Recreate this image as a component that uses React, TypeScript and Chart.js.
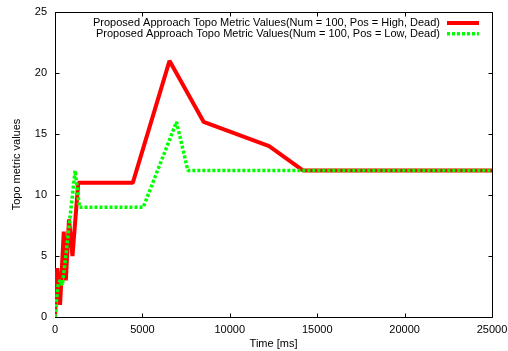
import React, { useEffect, useRef } from 'react';
import { Chart, registerables } from 'chart.js';

Chart.register(...registerables);

// ---- data ----
const seriesLabels = [
  'Proposed Approach Topo Metric Values(Num = 100, Pos = High, Dead)',
  'Proposed Approach Topo Metric Values(Num = 100, Pos = Low, Dead)',
];
const highTimes = [0, 130, 290, 500, 620, 800, 1000, 1330, 4450, 6550, 8500, 12250, 14200, 25000];
const highValues = [0, 4, 1, 7, 3, 8, 5, 11, 11, 21, 16, 14, 12, 12];
const lowTimes = [0, 190, 300, 420, 620, 1150, 1400, 5050, 6950, 7600, 25000];
const lowValues = [0, 2.8, 3, 2.6, 5, 12, 9, 9, 16, 12, 12];
const xMin = 0;
const xMax = 25000;
const xStep = 5000;
const yMin = 0;
const yMax = 25;
const yStep = 5;
const xTitle = 'Time [ms]';
const yTitle = 'Topo metric values';

const FONT = "'Liberation Sans', Arial, Helvetica, sans-serif";

const toPoints = (xs: number[], ys: number[]) => xs.map((x, i) => ({ x, y: ys[i] }));

const framePlugin = {
  id: 'gnuFrame',
  beforeDatasetsDraw(chart: any) {
    const { ctx, chartArea, scales } = chart;
    const L = Math.floor(chartArea.left) + 0.5;
    const R = Math.floor(chartArea.right) + 0.5;
    const T = Math.floor(chartArea.top) + 0.5;
    const B = Math.floor(chartArea.bottom) + 0.5;
    const tl = 4;
    ctx.save();
    ctx.strokeStyle = '#000';
    ctx.lineWidth = 1;
    ctx.beginPath();
    ctx.rect(L, T, R - L, B - T);
    scales.x.ticks.forEach((t: any) => {
      const px = Math.round(scales.x.getPixelForValue(t.value)) + 0.5;
      ctx.moveTo(px, B);
      ctx.lineTo(px, B - tl);
      ctx.moveTo(px, T);
      ctx.lineTo(px, T + tl);
    });
    scales.y.ticks.forEach((t: any) => {
      const py = Math.round(scales.y.getPixelForValue(t.value)) + 0.5;
      ctx.moveTo(L, py);
      ctx.lineTo(L + tl, py);
      ctx.moveTo(R, py);
      ctx.lineTo(R - tl, py);
    });
    ctx.stroke();
    ctx.restore();
  },
};

const legendPlugin = {
  id: 'gnuLegend',
  afterDatasetsDraw(chart: any) {
    const { ctx } = chart;
    const textRight = 440;
    const sampleL = 447;
    const sampleR = 479;
    const y0 = 23;
    const dy = 10.7;
    ctx.save();
    ctx.font = `11px ${FONT}`;
    ctx.textAlign = 'right';
    ctx.textBaseline = 'middle';
    chart.data.datasets.forEach((ds: any, i: number) => {
      const y = y0 + i * dy;
      ctx.fillStyle = '#000';
      ctx.fillText(ds.label, textRight, y);
      ctx.beginPath();
      ctx.strokeStyle = ds.borderColor;
      ctx.lineWidth = ds.borderWidth;
      ctx.setLineDash(ds.borderDash || []);
      ctx.moveTo(sampleL, y);
      ctx.lineTo(sampleR, y);
      ctx.stroke();
      ctx.setLineDash([]);
    });
    ctx.restore();
  },
};

export default function App() {
  const ref = useRef<HTMLCanvasElement | null>(null);

  useEffect(() => {
    document.body.style.margin = '0';
    const canvas = ref.current;
    if (!canvas) return;
    const chart = new Chart(canvas, {
      type: 'line',
      data: {
        datasets: [
          {
            label: seriesLabels[0],
            data: toPoints(highTimes, highValues),
            borderColor: '#ff0000',
            backgroundColor: '#ff0000',
            borderWidth: 4,
            borderJoinStyle: 'bevel',
            pointRadius: 0,
            tension: 0,
            fill: false,
            order: 1,
          },
          {
            label: seriesLabels[1],
            data: toPoints(lowTimes, lowValues),
            borderColor: '#00ff00',
            backgroundColor: '#00ff00',
            borderWidth: 3.5,
            borderDash: [3, 2],
            borderCapStyle: 'butt',
            borderJoinStyle: 'bevel',
            pointRadius: 0,
            tension: 0,
            fill: false,
            order: 0,
          },
        ],
      },
      options: {
        animation: false,
        responsive: false,
        devicePixelRatio: 1,
        layout: { padding: { top: 12, right: 16, left: 0, bottom: 0 } },
        font: { family: FONT, size: 11 },
        plugins: {
          legend: { display: false },
          tooltip: { enabled: false },
        },
        scales: {
          x: {
            type: 'linear',
            min: xMin,
            max: xMax,
            ticks: {
              stepSize: xStep,
              padding: 6,
              color: '#000',
              maxRotation: 0,
              autoSkip: false,
              font: { family: FONT, size: 11 },
              callback: (v: any) => String(v),
            },
            grid: { display: false, drawTicks: false },
            border: { display: false },
            title: {
              display: true,
              text: xTitle,
              color: '#000',
              padding: { top: 0, bottom: 0 },
              font: { family: FONT, size: 11 },
            },
            afterFit: (s: any) => {
              s.height = 34;
              s.paddingLeft = 0;
              s.paddingRight = 0;
            },
          },
          y: {
            type: 'linear',
            min: yMin,
            max: yMax,
            ticks: {
              stepSize: yStep,
              padding: 8,
              color: '#000',
              font: { family: FONT, size: 11 },
            },
            grid: { display: false, drawTicks: false },
            border: { display: false },
            title: {
              display: true,
              text: yTitle,
              color: '#000',
              padding: { top: 10, bottom: 0 },
              font: { family: FONT, size: 11 },
            },
            afterFit: (s: any) => {
              s.width = 55;
              s.paddingTop = 0;
              s.paddingBottom = 0;
            },
          },
        },
      } as any,
      plugins: [framePlugin, legendPlugin],
    });
    return () => chart.destroy();
  }, []);

  return (
    <div style={{ position: 'absolute', left: 0, top: 0, width: 508, height: 351, background: '#fff' }}>
      <canvas ref={ref} width={508} height={351} style={{ display: 'block', width: 508, height: 351 }} />
    </div>
  );
}
